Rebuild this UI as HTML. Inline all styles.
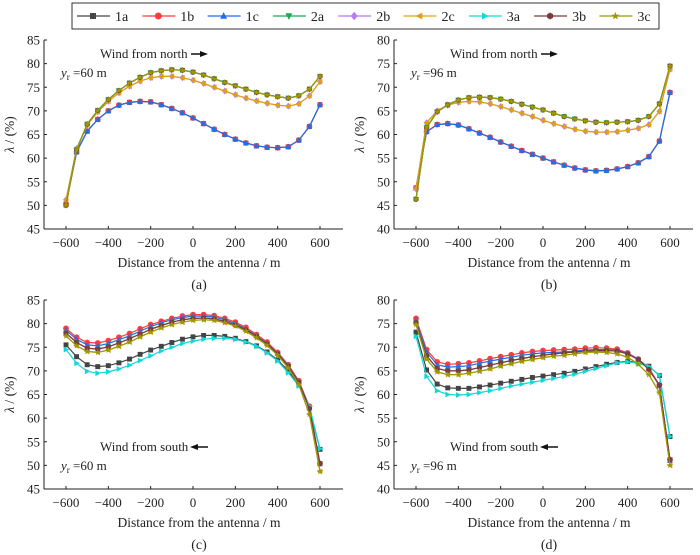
<!DOCTYPE html>
<html><head><meta charset="utf-8">
<style>
html,body{margin:0;padding:0;background:#fff;}
svg{display:block;font-family:"Liberation Serif",serif;}
</style></head>
<body>
<svg id="fig" width="700" height="555" viewBox="0 0 700 555" xmlns="http://www.w3.org/2000/svg"></svg>
<script>
const xCats = [-600,-550,-500,-450,-400,-350,-300,-250,-200,-150,-100,-50,0,50,100,150,200,250,300,350,400,450,500,550,600];
const xTicks = [-600,-400,-200,0,200,400,600];
const seriesNames = ["1a","1b","1c","2a","2b","2c","3a","3b","3c"];

// Panel (a)
const aUpper = [50.0,61.8,67.2,70.1,72.4,74.3,75.9,77.1,78.1,78.5,78.7,78.6,78.2,77.6,76.8,76.0,75.3,74.6,73.9,73.4,73.0,72.7,73.2,74.6,77.3];
const aMiddle = [51.2,62.0,67.0,69.8,72.0,73.8,75.2,76.3,77.0,77.3,77.3,77.0,76.5,75.8,75.0,74.2,73.4,72.7,72.1,71.6,71.2,71.0,71.5,73.2,76.2];
const aLower = [50.3,61.3,65.7,68.2,70.0,71.2,71.8,72.0,71.9,71.3,70.5,69.6,68.5,67.3,66.1,65.0,64.0,63.2,62.6,62.3,62.2,62.4,63.8,66.7,71.3];
// Panel (b)
const bUpper = [46.3,61.5,64.8,66.3,67.3,67.8,67.9,67.8,67.5,67.0,66.4,65.8,65.2,64.5,63.8,63.3,62.9,62.6,62.5,62.6,62.7,63.0,63.8,66.5,74.5];
const bMiddle = [48.5,62.5,65.0,66.2,66.8,67.0,66.9,66.5,65.9,65.2,64.5,63.8,63.0,62.3,61.7,61.1,60.7,60.5,60.5,60.6,60.9,61.3,62.1,64.9,73.8];
const bLower = [48.7,60.6,62.1,62.3,62.0,61.2,60.3,59.4,58.4,57.5,56.6,55.8,55.0,54.2,53.5,52.9,52.5,52.3,52.4,52.7,53.2,54.0,55.3,58.6,68.9];
// Panel (c)
const c1a = [75.5,73.0,71.3,70.9,71.1,71.7,72.5,73.5,74.4,75.2,76.0,76.7,77.2,77.5,77.5,77.3,76.9,76.2,75.3,74.0,72.3,70.0,67.0,62.3,53.4];
const c1b = [79.0,77.1,76.0,75.9,76.4,77.1,77.9,78.9,79.8,80.5,81.1,81.6,81.9,81.9,81.7,81.1,80.3,79.2,77.7,76.1,73.9,71.3,67.9,62.5,50.4];
const c1c = [78.6,76.7,75.5,75.3,75.8,76.6,77.4,78.4,79.4,80.2,80.8,81.3,81.6,81.6,81.4,80.8,80.0,78.9,77.4,75.8,73.7,71.1,67.7,62.3,50.3];
const cBrown = [78.0,76.0,74.8,74.6,75.1,75.9,76.8,77.8,78.8,79.6,80.3,80.8,81.1,81.2,81.0,80.5,79.7,78.7,77.3,75.7,73.6,71.0,67.6,62.0,50.4];
const cOlive = [77.4,75.3,74.1,73.9,74.4,75.2,76.1,77.2,78.2,79.1,79.8,80.3,80.7,80.8,80.7,80.2,79.5,78.4,77.0,75.4,73.3,70.6,67.1,60.8,48.7];
const c3a = [74.5,71.6,69.9,69.5,69.8,70.4,71.2,72.2,73.2,74.2,75.0,75.8,76.3,76.7,76.9,76.9,76.7,76.1,75.2,73.8,72.1,69.6,66.8,62.5,53.5];
// Panel (d)
const d1a = [73.2,65.2,62.2,61.4,61.3,61.3,61.6,62.0,62.4,62.8,63.2,63.6,63.9,64.2,64.5,64.9,65.4,65.9,66.4,66.8,67.0,66.8,66.0,64.0,51.1];
const d1b = [76.1,69.5,66.9,66.4,66.5,66.7,67.1,67.6,68.0,68.4,68.8,69.1,69.3,69.4,69.5,69.6,69.8,69.9,69.8,69.6,68.8,67.5,65.7,62.0,46.2];
const d1c = [75.7,69.0,66.3,65.8,65.9,66.1,66.6,67.1,67.5,67.9,68.3,68.6,68.8,68.9,69.0,69.2,69.4,69.5,69.5,69.4,68.7,67.4,65.5,61.8,46.0];
const dBrown = [75.2,68.2,65.5,65.0,65.0,65.2,65.7,66.2,66.7,67.2,67.6,68.0,68.3,68.6,68.8,69.0,69.2,69.3,69.3,69.2,68.6,67.4,65.3,62.0,46.2];
const dOlive = [74.8,67.5,64.8,64.2,64.2,64.5,64.9,65.4,66.0,66.5,67.0,67.4,67.8,68.1,68.3,68.6,68.9,69.0,68.9,68.6,67.9,66.4,64.2,60.4,45.0];
const d3a = [72.3,63.8,60.8,60.0,59.9,60.0,60.4,60.8,61.3,61.8,62.2,62.6,63.0,63.4,63.8,64.3,64.9,65.5,66.1,66.7,66.9,66.6,65.9,64.1,51.1];

const aTicksY = [45,50,55,60,65,70,75,80,85];
const bTicksY = [40,45,50,55,60,65,70,75,80];

const NS = "http://www.w3.org/2000/svg";
const svg = document.getElementById("fig");
function mk(tag, attrs, parent){
  const e = document.createElementNS(NS, tag);
  for (const k in attrs) e.setAttribute(k, attrs[k]);
  (parent||svg).appendChild(e);
  return e;
}
const colors = {"1a":"#444444","1b":"#ff3b3b","1c":"#1f6fe8","2a":"#20a858","2b":"#b57cf5","2c":"#e0a010","3a":"#10d8d8","3b":"#7a3c3c","3c":"#9a9a00"};
const markers = {"1a":"square","1b":"circle","1c":"tri-up","2a":"tri-down","2b":"diamond","2c":"tri-left","3a":"tri-right","3b":"hexagon","3c":"star"};

function markerShape(type, cx, cy, r, color, g){
  let e;
  if (type==="square") e = mk("rect",{x:cx-r*0.85,y:cy-r*0.85,width:r*1.7,height:r*1.7,fill:color},g);
  else if (type==="circle") e = mk("circle",{cx:cx,cy:cy,r:r,fill:color},g);
  else {
    let pts=[];
    if (type==="tri-up") pts=[[0,-r*1.1],[r,r*0.8],[-r,r*0.8]];
    else if (type==="tri-down") pts=[[0,r*1.1],[r,-r*0.8],[-r,-r*0.8]];
    else if (type==="tri-left") pts=[[-r*1.1,0],[r*0.8,-r],[r*0.8,r]];
    else if (type==="tri-right") pts=[[r*1.1,0],[-r*0.8,-r],[-r*0.8,r]];
    else if (type==="diamond") pts=[[0,-r*1.2],[r,0],[0,r*1.2],[-r,0]];
    else if (type==="hexagon") for(let i=0;i<6;i++){const a=Math.PI/6+i*Math.PI/3;pts.push([r*Math.cos(a),r*Math.sin(a)]);}
    else if (type==="star") for(let i=0;i<10;i++){const a=-Math.PI/2+i*Math.PI/5;const rr=i%2?r*0.5:r*1.2;pts.push([rr*Math.cos(a),rr*Math.sin(a)]);}
    e = mk("polygon",{points:pts.map(p=>(cx+p[0]).toFixed(1)+","+(cy+p[1]).toFixed(1)).join(" "),fill:color},g);
  }
  return e;
}

// Legend
const lg = mk("g",{});


mk("rect",{x:72,y:3,width:587,height:26,fill:"#fff",stroke:"#333","stroke-width":1},lg);
seriesNames.forEach((s,i)=>{
  const mx = 93 + i*65.3;
  const eg = mk("g",{},lg);
  
  
  mk("line",{x1:mx-16,y1:16,x2:mx+17,y2:16,stroke:colors[s],"stroke-width":1.3},eg);
  markerShape(markers[s],mx,16,3.5,colors[s],eg);
  const t = mk("text",{x:mx+22,y:21,"font-size":14,fill:"#222"},eg);
  t.textContent = s;
});

function panel(p){
  const g = mk("g",{});
  
  
  const x0=p.ox, yTop=p.oy, yBot=p.oy+189;
  const xs = v => p.ox+22 + (v+600)*254/1200;
  const ys = v => yBot - (v-p.ymin)*189/(p.ymax-p.ymin);
  const ax = mk("g",{},g);
  
  
  mk("line",{x1:x0,y1:yTop,x2:x0,y2:yBot,stroke:"#222","stroke-width":1},ax);
  mk("line",{x1:x0,y1:yBot,x2:x0+299,y2:yBot,stroke:"#222","stroke-width":1},ax);
  p.yt.forEach(v=>{
    const y=ys(v);
    mk("line",{x1:x0,y1:y,x2:x0+3,y2:y,stroke:"#222"},ax);
    const t=mk("text",{x:x0-4,y:y+4.5,"font-size":13,"text-anchor":"end",fill:"#222"},ax);
    
    
    t.textContent=v;
  });
  xTicks.forEach(v=>{
    const x=xs(v);
    mk("line",{x1:x,y1:yBot,x2:x,y2:yBot-3,stroke:"#222"},ax);
    const t=mk("text",{x:x,y:yBot+18,"font-size":13,"text-anchor":"middle",fill:"#222"},ax);
    
    
    t.textContent=(v<0?"\u2212"+(-v):v);
  });
  const xl=mk("text",{x:x0+155,y:yBot+38,"font-size":13.5,"text-anchor":"middle",fill:"#222"},g);
  
  
  xl.textContent="Distance from the antenna / m";
  const yl=mk("text",{x:0,y:0,"font-size":13.5,"text-anchor":"middle",fill:"#222",transform:`translate(${x0-30},${(yTop+yBot)/2}) rotate(-90)`},g);
  
  
  yl.innerHTML='<tspan font-style="italic">λ</tspan> / (%)';
  const cap=mk("text",{x:x0+155,y:yBot+60,"font-size":14,"text-anchor":"middle",fill:"#222"},g);
  
  
  cap.textContent="("+p.id+")";
  const wt=mk("text",{x:x0+56,y:p.windY,"font-size":13,fill:"#222"},g);
  
  
  wt.textContent=p.wind;
  const ay=p.windY-4;
  if(p.north){
    mk("line",{x1:x0+147,y1:ay,x2:x0+160,y2:ay,stroke:"#111","stroke-width":1.5},g);
    mk("polygon",{points:`${x0+164},${ay} ${x0+156},${ay-3} ${x0+156},${ay+3}`,fill:"#111"},g);
  } else {
    mk("line",{x1:x0+150,y1:ay,x2:x0+164,y2:ay,stroke:"#111","stroke-width":1.5},g);
    mk("polygon",{points:`${x0+146},${ay} ${x0+154},${ay-3} ${x0+154},${ay+3}`,fill:"#111"},g);
  }
  const yr=mk("text",{x:x0+17,y:p.yrY,"font-size":13,fill:"#222"},g);
  
  
  yr.innerHTML='<tspan font-style="italic">y</tspan><tspan font-size="9" dy="3">r</tspan><tspan dy="-3"> =</tspan>'+p.yr;
  seriesNames.forEach(s=>{
    const data=p.data[s];
    const sg=mk("g",{},g);
    
    
    const d=data.map((v,i)=>(i?"L":"M")+xs(xCats[i]).toFixed(1)+","+ys(v).toFixed(1)).join(" ");
    const path=mk("path",{d:d,fill:"none",stroke:colors[s],"stroke-width":1.2},sg);
    
    
    data.forEach((v,i)=>{
      const m=markerShape(markers[s],xs(xCats[i]),ys(v),2.9,colors[s],sg);
      
      
    });
  });
}

panel({id:"a",ox:44,oy:40,ymin:45,ymax:85,yt:aTicksY,wind:"Wind from north",north:true,windY:58,yrY:77,yr:"60 m",
  data:{"1a":aLower,"1b":aLower,"1c":aLower,"2a":aUpper,"2b":aMiddle,"2c":aMiddle,"3a":aUpper,"3b":aUpper,"3c":aUpper}});
panel({id:"b",ox:394,oy:40,ymin:40,ymax:80,yt:bTicksY,wind:"Wind from north",north:true,windY:58,yrY:77,yr:"96 m",
  data:{"1a":bLower,"1b":bLower,"1c":bLower,"2a":bUpper,"2b":bMiddle,"2c":bMiddle,"3a":bUpper,"3b":bUpper,"3c":bUpper}});
panel({id:"c",ox:44,oy:300,ymin:45,ymax:85,yt:aTicksY,wind:"Wind from south",north:false,windY:451,yrY:470,yr:"60 m",
  data:{"1a":c1a,"1b":c1b,"1c":c1c,"2a":cBrown,"2b":cBrown,"2c":cOlive,"3a":c3a,"3b":cBrown,"3c":cOlive}});
panel({id:"d",ox:394,oy:300,ymin:40,ymax:80,yt:bTicksY,wind:"Wind from south",north:false,windY:451,yrY:470,yr:"96 m",
  data:{"1a":d1a,"1b":d1b,"1c":d1c,"2a":dBrown,"2b":dBrown,"2c":dOlive,"3a":d3a,"3b":dBrown,"3c":dOlive}});
</script>
</body></html>
